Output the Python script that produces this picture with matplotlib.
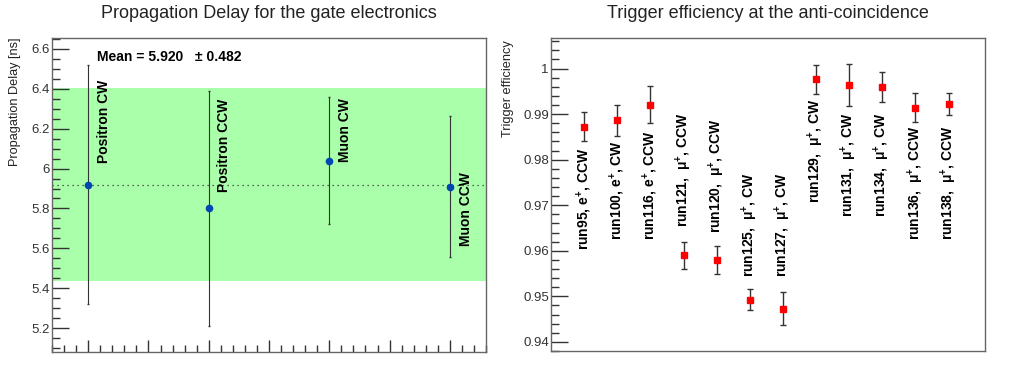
import matplotlib
matplotlib.use("Agg")
import matplotlib.pyplot as plt
from matplotlib.ticker import MultipleLocator, NullLocator

plt.rcParams['font.family'] = ['Liberation Sans', 'DejaVu Sans']
plt.rcParams['mathtext.fontset'] = 'custom'
plt.rcParams['mathtext.rm'] = 'Liberation Sans'
plt.rcParams['mathtext.it'] = 'Liberation Sans:italic'
plt.rcParams['mathtext.bf'] = 'Liberation Sans:bold'
plt.rcParams['mathtext.default'] = 'regular'

# left panel: propagation delay
delay_names = ["Positron CW", "Positron CCW", "Muon CW", "Muon CCW"]
delay_x = [1, 3, 5, 7]
delay_val = [5.92, 5.80, 6.04, 5.91]
delay_err = [0.60, 0.59, 0.32, 0.355]
delay_label_y = [6.03, 5.885, 6.035, 5.61]
delay_mean = 5.920
delay_rms = 0.482

# right panel: trigger efficiency
run_names = ["run95, e$^{+}$, CCW", "run100, e$^{+}$, CW", "run116, e$^{+}$, CCW",
             "run121,  $\\mu^{+}$, CCW", "run120,  $\\mu^{+}$, CCW", "run125,  $\\mu^{+}$, CW",
             "run127,  $\\mu^{+}$, CW", "run129,  $\\mu^{+}$, CW", "run131,  $\\mu^{+}$, CW",
             "run134,  $\\mu^{+}$, CW", "run136,  $\\mu^{+}$, CCW", "run138,  $\\mu^{+}$, CCW"]
run_x = list(range(1, 13))
eff_val = [0.9872, 0.9886, 0.9921, 0.9590, 0.9580, 0.9493,
           0.9473, 0.9976, 0.9963, 0.9960, 0.9914, 0.9922]
eff_err = [0.0032, 0.0035, 0.0041, 0.0030, 0.0030, 0.0022,
           0.0037, 0.0032, 0.0046, 0.0033, 0.0032, 0.0024]
run_label_y = [0.9602, 0.9624, 0.9624, 0.9652, 0.9639, 0.9542,
               0.9542, 0.9705, 0.9674, 0.9674, 0.9624, 0.9624]

fig = plt.figure(figsize=(10.24, 3.8), dpi=100)
ax1 = fig.add_axes([52/1024, 28/380, 434/1024, 314/380])
ax2 = fig.add_axes([551/1024, 29/380, 434/1024, 313/380])

spine_col = '#666666'
for ax in (ax1, ax2):
    for s in ax.spines.values():
        s.set_color(spine_col)
        s.set_linewidth(1.0)
    ax.tick_params(which='both', direction='in', colors='#333333', labelsize=9.5, pad=1.5)
    ax.tick_params(which='major', length=12, width=1)
    ax.tick_params(which='minor', length=6, width=1)
    ax.tick_params(axis='y', right=False)

# ---- left
ax1.set_xlim(0.4, 7.6)
ax1.set_ylim(5.08, 6.655)
ax1.axhspan(delay_mean - delay_rms, delay_mean + delay_rms, color='#aaffaa', lw=0, zorder=0)
ax1.axhline(delay_mean, color='#333333', ls=(0, (1, 3)), lw=0.9, zorder=1)
ax1.errorbar(delay_x, delay_val, yerr=delay_err, fmt='o', color='#0047b3', ms=4.5,
             ecolor='#333333', elinewidth=0.8, capsize=1, zorder=3)
for x, lab, ly in zip(delay_x, delay_names, delay_label_y):
    ax1.text(x + 0.26, ly, lab, rotation=90, ha='center', va='bottom',
             fontsize=10, fontweight='bold')
ax1.text(1.15, 6.56, "Mean = 5.920   \u00b1 0.482", fontsize=10, fontweight='bold',
         va='center', ha='left')
ax1.yaxis.set_minor_locator(MultipleLocator(0.05))
ax1.xaxis.set_major_locator(MultipleLocator(1))
ax1.xaxis.set_minor_locator(MultipleLocator(0.2))
ax1.set_yticks([5.2, 5.4, 5.6, 5.8, 6.0, 6.2, 6.4, 6.6])
ax1.set_yticklabels(['5.2', '5.4', '5.6', '5.8', '6', '6.2', '6.4', '6.6'])
ax1.tick_params(axis='x', which='major', length=9, labelbottom=False)
ax1.tick_params(axis='x', which='minor', length=5)

# ---- right
ax2.set_xlim(0, 13.1)
ax2.set_ylim(0.938, 1.0067)
ax2.errorbar(run_x, eff_val, yerr=eff_err, fmt='s', color='#ff0000', ms=5,
             ecolor='#333333', elinewidth=1, capsize=2, zorder=3)
for x, lab, ly in zip(run_x, run_names, run_label_y):
    ax2.text(x, ly, lab, rotation=90, ha='center', va='bottom',
             fontsize=10, fontweight='bold')
ax2.set_yticks([0.94, 0.95, 0.96, 0.97, 0.98, 0.99, 1.0])
ax2.set_yticklabels(['0.94', '0.95', '0.96', '0.97', '0.98', '0.99', '1'])
ax2.yaxis.set_minor_locator(MultipleLocator(0.002))
ax2.xaxis.set_major_locator(NullLocator())
ax2.xaxis.set_minor_locator(NullLocator())

fig.text(269/1024, 1 - 14/380, "Propagation Delay for the gate electronics",
         ha='center', va='center', fontsize=13, color='#222222')
fig.text(768/1024, 1 - 14/380, "Trigger efficiency at the anti-coincidence",
         ha='center', va='center', fontsize=13, color='#222222')
fig.text(15/1024, 1 - 37/380, "Propagation Delay [ns]", rotation=90,
         ha='center', va='top', fontsize=9.2, color='#222222')
fig.text(508/1024, 1 - 40/380, "Trigger efficiency", rotation=90,
         ha='center', va='top', fontsize=9.2, color='#222222')

fig.savefig("out.png", dpi=100)
